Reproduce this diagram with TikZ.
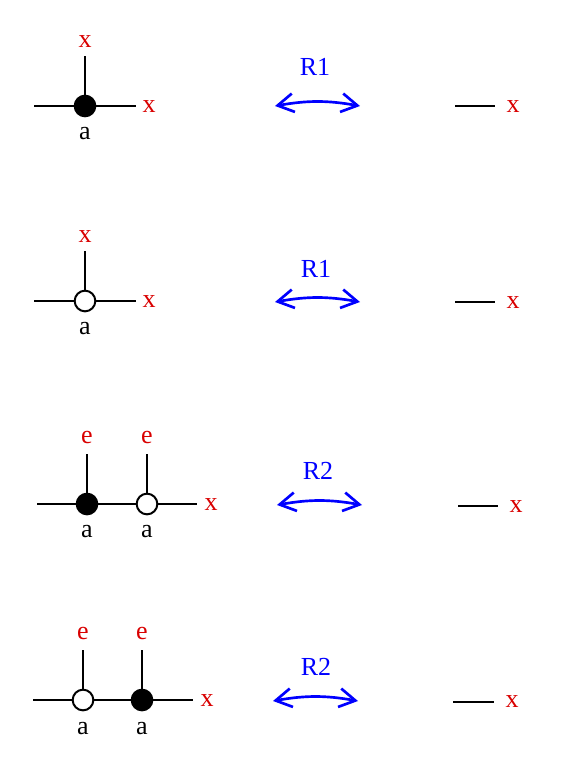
\documentclass[tikz,border=0pt]{standalone}
\usepackage{fontspec}
\setmainfont{Liberation Serif}
\usetikzlibrary{arrows.meta, positioning}

\begin{document}
\begin{tikzpicture}[
      x=0.75pt, y=-0.75pt,
      line width=1.5pt,
      every node/.style = {font=\fontsize{19.5}{22}\selectfont, inner sep=0pt},
      fullv/.style = {circle, draw, fill=black, minimum size=15.5pt},
      openv/.style = {circle, draw, fill=white, minimum size=15.5pt},
      leg/.style = {text=red!85!black},
      rel/.style = {text=blue},
      move/.style = {draw=blue, line width=2pt,
        {Straight Barb[length=12pt, width=14pt]}-{Straight Barb[length=12pt, width=14pt]}}
    ]
      \useasboundingbox (0,0) rectangle (561,766);

      % first row: R1, full vertex
      \coordinate (w1) at (34,106);
      \coordinate (e1) at (136,106);
      \coordinate (n1) at (85,56);
      \node[fullv] (v1) at (85,106) {};
      \node[leg] (x1t) at (85,42) {x};
      \node[leg] (x1r) at (149,107) {x};
      \node (a1) at (85,134) {a};
      \draw (w1) -- (v1) -- (e1);
      \draw (v1) -- (n1);
      \node[rel] (r1) at (315,67) {R1};
      \coordinate (p1) at (275,106);
      \coordinate (q1) at (360,106);
      \draw[move] (p1) to[bend left=10] (q1);
      \coordinate (s1) at (455,106);
      \coordinate (t1) at (495,106);
      \draw (s1) -- (t1);
      \node[leg] (y1) at (513,107) {x};

      % second row: R1, open vertex
      \coordinate (w2) at (34,301);
      \coordinate (e2) at (136,301);
      \coordinate (n2) at (85,251);
      \node[openv] (v2) at (85,301) {};
      \node[leg] (x2t) at (85,237) {x};
      \node[leg] (x2r) at (149,302) {x};
      \node (a2) at (85,329) {a};
      \draw (w2) -- (v2) -- (e2);
      \draw (v2) -- (n2);
      \node[rel] (r2) at (316,269) {R1};
      \coordinate (p2) at (275,302);
      \coordinate (q2) at (360,302);
      \draw[move] (p2) to[bend left=10] (q2);
      \coordinate (s2) at (455,302);
      \coordinate (t2) at (495,302);
      \draw (s2) -- (t2);
      \node[leg] (y2) at (513,303) {x};

      % third row: R2, full then open
      \coordinate (w3) at (37,504);
      \coordinate (e3) at (197,504);
      \coordinate (n3) at (87,454);
      \coordinate (m3) at (147,454);
      \node[fullv] (v3) at (87,504) {};
      \node[openv] (u3) at (147,504) {};
      \node[leg] (x3a) at (87,437) {e};
      \node[leg] (x3b) at (147,437) {e};
      \node[leg] (x3r) at (211,505) {x};
      \node (a3) at (87,532) {a};
      \node (b3) at (147,532) {a};
      \draw (w3) -- (v3) -- (u3) -- (e3);
      \draw (v3) -- (n3);
      \draw (u3) -- (m3);
      \node[rel] (r3) at (318,471) {R2};
      \coordinate (p3) at (277,505);
      \coordinate (q3) at (362,505);
      \draw[move] (p3) to[bend left=10] (q3);
      \coordinate (s3) at (458,506);
      \coordinate (t3) at (498,506);
      \draw (s3) -- (t3);
      \node[leg] (y3) at (516,507) {x};

      % fourth row: R2, open then full
      \coordinate (w4) at (33,700);
      \coordinate (e4) at (193,700);
      \coordinate (n4) at (83,650);
      \coordinate (m4) at (142,650);
      \node[openv] (v4) at (83,700) {};
      \node[fullv] (u4) at (142,700) {};
      \node[leg] (x4a) at (83,633) {e};
      \node[leg] (x4b) at (142,633) {e};
      \node[leg] (x4r) at (207,701) {x};
      \node (a4) at (83,729) {a};
      \node (b4) at (142,729) {a};
      \draw (w4) -- (v4) -- (u4) -- (e4);
      \draw (v4) -- (n4);
      \draw (u4) -- (m4);
      \node[rel] (r4) at (316,667) {R2};
      \coordinate (p4) at (273,701);
      \coordinate (q4) at (358,701);
      \draw[move] (p4) to[bend left=10] (q4);
      \coordinate (s4) at (453,702);
      \coordinate (t4) at (494,702);
      \draw (s4) -- (t4);
      \node[leg] (y4) at (512,702) {x};
    \end{tikzpicture}
\end{document}
